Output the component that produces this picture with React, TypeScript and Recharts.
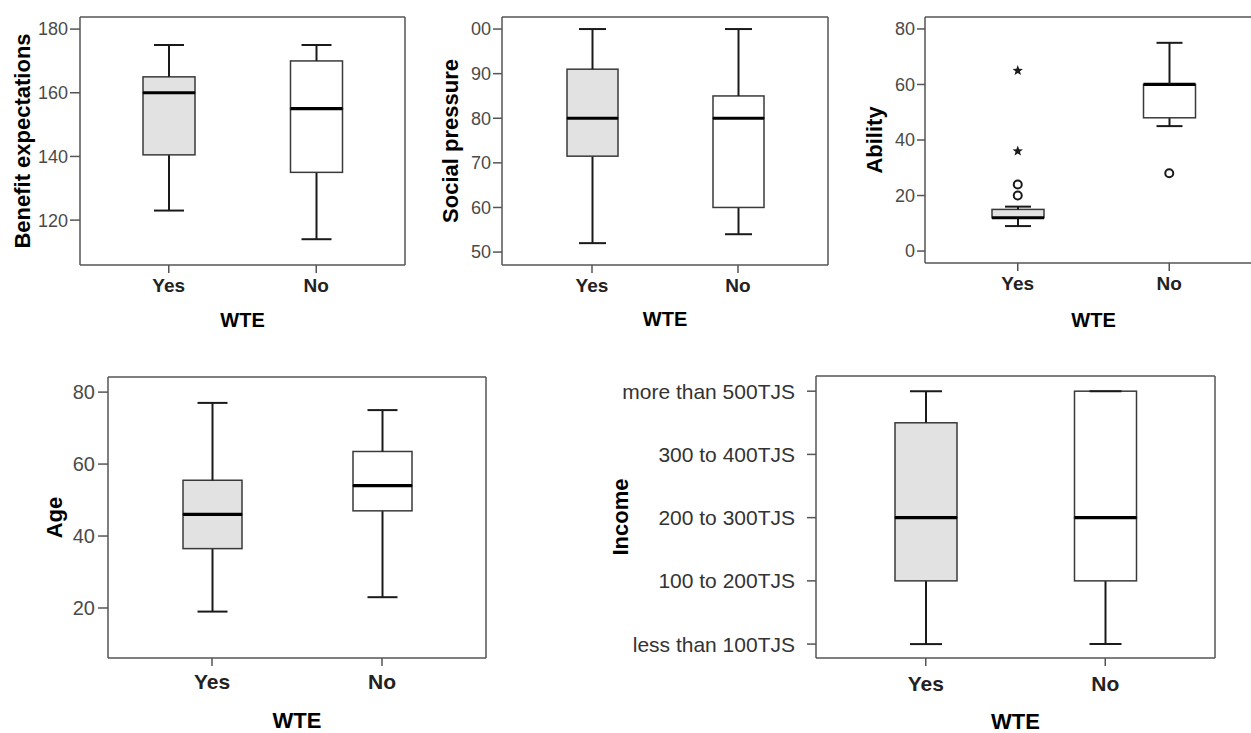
import { ComposedChart, Bar, Scatter, XAxis, YAxis } from "recharts";

const groups = ["Yes", "No"];

// Benefit expectations
const benefitMin = [123, 114];
const benefitQ1 = [140.5, 135];
const benefitMedian = [160, 155];
const benefitQ3 = [165, 170];
const benefitMax = [175, 175];
const benefitTicks = [120, 140, 160, 180];

// Social pressure (top tick is printed cut off as "00")
const socialMin = [52, 54];
const socialQ1 = [71.5, 60];
const socialMedian = [80, 80];
const socialQ3 = [91, 85];
const socialMax = [100, 100];
const socialTicks = [50, 60, 70, 80, 90, 100];
const socialTickLabels = ["50", "60", "70", "80", "90", "00"];

// Ability
const abilityMin = [9, 45];
const abilityQ1 = [12, 48];
const abilityMedian = [12, 60];
const abilityQ3 = [15, 60];
const abilityMax = [16, 75];
const abilityCircles = [[20, 24], [28]];
const abilityStars = [[36, 65], []];
const abilityTicks = [0, 20, 40, 60, 80];

// Age
const ageMin = [19, 23];
const ageQ1 = [36.5, 47];
const ageMedian = [46, 54];
const ageQ3 = [55.5, 63.5];
const ageMax = [77, 75];
const ageTicks = [20, 40, 60, 80];

// Income (ordinal codes 1..5)
const incomeMin = [1, 1];
const incomeQ1 = [2, 2];
const incomeMedian = [3, 3];
const incomeQ3 = [4.5, 5];
const incomeMax = [5, 5];
const incomeTicks = [1, 2, 3, 4, 5];
const incomeTickLabels = ["less than 100TJS", "100 to 200TJS", "200 to 300TJS", "300 to 400TJS", "more than 500TJS"];

const SANS = "'Liberation Sans', Arial, sans-serif";
const NARROW = "'Liberation Sans Narrow', 'Arial Narrow', 'Liberation Sans', Arial, sans-serif";
const FRAME = "#555";
const INK = "#1a1a1a";

const buildRows = (
  min: number[], q1: number[], med: number[], q3: number[], max: number[],
  circles: number[][] = [], stars: number[][] = []
) =>
  groups.map((name, i) => ({
    name,
    base: min[i],
    lowWhisker: q1[i] - min[i],
    lowBox: med[i] - q1[i],
    highBox: q3[i] - med[i],
    highWhisker: max[i] - q3[i],
    c0: circles[i]?.[0],
    c1: circles[i]?.[1],
    s0: stars[i]?.[0],
    s1: stars[i]?.[1],
  }));

const boxFill = (p: any) => (p.payload?.name === "Yes" ? "#e2e2e2" : "#ffffff");

const Empty = () => <g />;

const lowWhiskerShape = (cap: number) => (p: any) => {
  const cx = p.x + p.width / 2;
  const yb = p.y + p.height;
  return (
    <g stroke={INK} strokeWidth={2}>
      <line x1={cx} x2={cx} y1={p.y} y2={yb} />
      <line x1={cx - cap / 2} x2={cx + cap / 2} y1={yb} y2={yb} />
    </g>
  );
};

const highWhiskerShape = (cap: number) => (p: any) => {
  const cx = p.x + p.width / 2;
  return (
    <g stroke={INK} strokeWidth={2}>
      <line x1={cx} x2={cx} y1={p.y} y2={p.y + p.height} />
      <line x1={cx - cap / 2} x2={cx + cap / 2} y1={p.y} y2={p.y} />
    </g>
  );
};

const lowBoxShape = (p: any) => (
  <rect x={p.x} y={p.y} width={p.width} height={Math.max(p.height, 0)} fill={boxFill(p)} stroke="#3a3a3a" strokeWidth={1.5} />
);

const highBoxShape = (p: any) => (
  <g>
    <rect x={p.x} y={p.y} width={p.width} height={Math.max(p.height, 0)} fill={boxFill(p)} stroke="#3a3a3a" strokeWidth={1.5} />
    <line x1={p.x} x2={p.x + p.width} y1={p.y + p.height} y2={p.y + p.height} stroke="#000" strokeWidth={3.2} />
  </g>
);

const circleShape = (p: any) =>
  Number.isFinite(p.cx) && Number.isFinite(p.cy) ? (
    <circle cx={p.cx} cy={p.cy} r={4} fill="#fff" stroke={INK} strokeWidth={2} />
  ) : (
    <g />
  );

const starShape = (p: any) => {
  if (!Number.isFinite(p.cx) || !Number.isFinite(p.cy)) return <g />;
  const pts: string[] = [];
  for (let k = 0; k < 10; k++) {
    const r = k % 2 === 0 ? 5.5 : 2.3;
    const a = -Math.PI / 2 + (k * Math.PI) / 5;
    pts.push(`${p.cx + r * Math.cos(a)},${p.cy + r * Math.sin(a)}`);
  }
  return <polygon points={pts.join(" ")} fill={INK} />;
};

type PanelProps = {
  rows: any[];
  title: string;
  frame: [number, number, number, number];
  domain: [number, number];
  ticks: number[];
  tickLabels?: string[];
  axisWidth: number;
  titleX: number;
  pad: number;
  boxWidth: number;
  cap: number;
  tickFont: { size: number; family: string; fill: string };
  yTickSize: number;
  yTickMargin: number;
  catFont: number;
  catMargin: number;
  wteFont: number;
  wteOffset: number;
};

const Panel = (c: PanelProps) => {
  const [x0, y0, x1, y1] = c.frame;
  const mTop = 9; // + 1px top mirror axis
  const mRight = 9; // + 1px right mirror axis
  const xAxisH = 80;
  const width = x1 - x0 + c.axisWidth + mRight + 1;
  const height = y1 - y0 + mTop + 1 + xAxisH;
  const fmt = (v: number) => {
    if (!c.tickLabels) return String(v);
    const i = c.ticks.indexOf(v);
    return i >= 0 ? c.tickLabels[i] : "";
  };
  const yTitle = (p: any) => {
    const vb = p.viewBox;
    const x = vb.x + c.titleX;
    const y = vb.y + vb.height / 2;
    return (
      <text x={x} y={y} transform={`rotate(-90, ${x}, ${y})`} textAnchor="middle" dominantBaseline="central"
        fontFamily={SANS} fontWeight="bold" fontSize={22} fill="#000">
        {c.title}
      </text>
    );
  };
  const xTitle = (p: any) => {
    const vb = p.viewBox;
    return (
      <text x={vb.x + vb.width / 2} y={vb.y + c.wteOffset} textAnchor="middle" dominantBaseline="central"
        fontFamily={SANS} fontWeight="bold" fontSize={c.wteFont} fill="#000">
        WTE
      </text>
    );
  };
  return (
    <div style={{ position: "absolute", left: x0 - c.axisWidth, top: y0 - mTop - 1 }}>
      <ComposedChart width={width} height={height} data={c.rows} barSize={c.boxWidth}
        margin={{ top: mTop, right: mRight, bottom: 0, left: 0 }}>
        <XAxis dataKey="name" height={xAxisH} padding={{ left: c.pad, right: c.pad }}
          axisLine={{ stroke: FRAME, strokeWidth: 1.5 }} tickLine={{ stroke: FRAME, strokeWidth: 1.5 }} tickSize={8}
          tickMargin={c.catMargin}
          tick={{ fontSize: c.catFont, fontWeight: "bold", fill: "#222", fontFamily: SANS }}
          label={xTitle} />
        <XAxis xAxisId="top" orientation="top" dataKey="name" height={1} tick={false} tickLine={false}
          axisLine={{ stroke: FRAME, strokeWidth: 1.5 }} />
        <YAxis type="number" domain={c.domain} ticks={c.ticks} allowDataOverflow width={c.axisWidth}
          tickFormatter={fmt} interval={0}
          axisLine={{ stroke: FRAME, strokeWidth: 1.5 }} tickLine={{ stroke: FRAME, strokeWidth: 1.5 }}
          tickSize={c.yTickSize} tickMargin={c.yTickMargin}
          tick={{ fontSize: c.tickFont.size, fill: c.tickFont.fill, fontFamily: c.tickFont.family }}
          label={yTitle} />
        <YAxis yAxisId="right" orientation="right" width={1} domain={[0, 1]} tick={false} tickLine={false}
          axisLine={{ stroke: FRAME, strokeWidth: 1.5 }} />
        <Bar dataKey="base" stackId="box" shape={Empty} isAnimationActive={false} />
        <Bar dataKey="lowWhisker" stackId="box" shape={lowWhiskerShape(c.cap)} isAnimationActive={false} />
        <Bar dataKey="lowBox" stackId="box" shape={lowBoxShape} isAnimationActive={false} />
        <Bar dataKey="highBox" stackId="box" shape={highBoxShape} isAnimationActive={false} />
        <Bar dataKey="highWhisker" stackId="box" shape={highWhiskerShape(c.cap)} isAnimationActive={false} />
        <Scatter dataKey="c0" shape={circleShape} isAnimationActive={false} />
        <Scatter dataKey="c1" shape={circleShape} isAnimationActive={false} />
        <Scatter dataKey="s0" shape={starShape} isAnimationActive={false} />
        <Scatter dataKey="s1" shape={starShape} isAnimationActive={false} />
      </ComposedChart>
    </div>
  );
};

const topTick = { size: 18, family: NARROW, fill: "#4a4a4a" };

export default function App() {
  return (
    <div style={{ position: "absolute", left: 0, top: 0, width: 1251, height: 733, overflow: "hidden", background: "#fff" }}>
      <Panel
        rows={buildRows(benefitMin, benefitQ1, benefitMedian, benefitQ3, benefitMax)}
        title="Benefit expectations" frame={[80, 17, 405, 265]} domain={[105.9, 183.8]} ticks={benefitTicks}
        axisWidth={80} titleX={22} pad={15} boxWidth={52} cap={30} tickFont={topTick} yTickSize={10} yTickMargin={2}
        catFont={19} catMargin={6} wteFont={20} wteOffset={55} />
      <Panel
        rows={buildRows(socialMin, socialQ1, socialMedian, socialQ3, socialMax)}
        title="Social pressure" frame={[502, 17, 828, 265]} domain={[47.1, 102.7]} ticks={socialTicks}
        tickLabels={socialTickLabels}
        axisWidth={80} titleX={28} pad={17} boxWidth={51} cap={27} tickFont={topTick} yTickSize={9} yTickMargin={2}
        catFont={19} catMargin={6} wteFont={20} wteOffset={54} />
      <Panel
        rows={buildRows(abilityMin, abilityQ1, abilityMedian, abilityQ3, abilityMax, abilityCircles, abilityStars)}
        title="Ability" frame={[925, 17, 1262, 263]} domain={[-4.3, 84.3]} ticks={abilityTicks}
        axisWidth={80} titleX={29} pad={17} boxWidth={52} cap={26} tickFont={topTick} yTickSize={8} yTickMargin={2}
        catFont={19} catMargin={6} wteFont={20} wteOffset={57} />
      <Panel
        rows={buildRows(ageMin, ageQ1, ageMedian, ageQ3, ageMax)}
        title="Age" frame={[108, 377, 486, 658]} domain={[6.1, 84.2]} ticks={ageTicks}
        axisWidth={80} titleX={26} pad={19} boxWidth={59} cap={30} tickFont={{ size: 20, family: NARROW, fill: "#4a4a4a" }}
        yTickSize={10} yTickMargin={3}
        catFont={21} catMargin={8} wteFont={22} wteOffset={62} />
      <Panel
        rows={buildRows(incomeMin, incomeQ1, incomeMedian, incomeQ3, incomeMax)}
        title="Income" frame={[816, 376, 1215, 658]} domain={[0.78, 5.24]} ticks={incomeTicks}
        tickLabels={incomeTickLabels}
        axisWidth={216} titleX={20} pad={20} boxWidth={62} cap={32} tickFont={{ size: 21, family: SANS, fill: "#333" }}
        yTickSize={9} yTickMargin={12}
        catFont={21} catMargin={10} wteFont={22} wteOffset={63} />
    </div>
  );
}
